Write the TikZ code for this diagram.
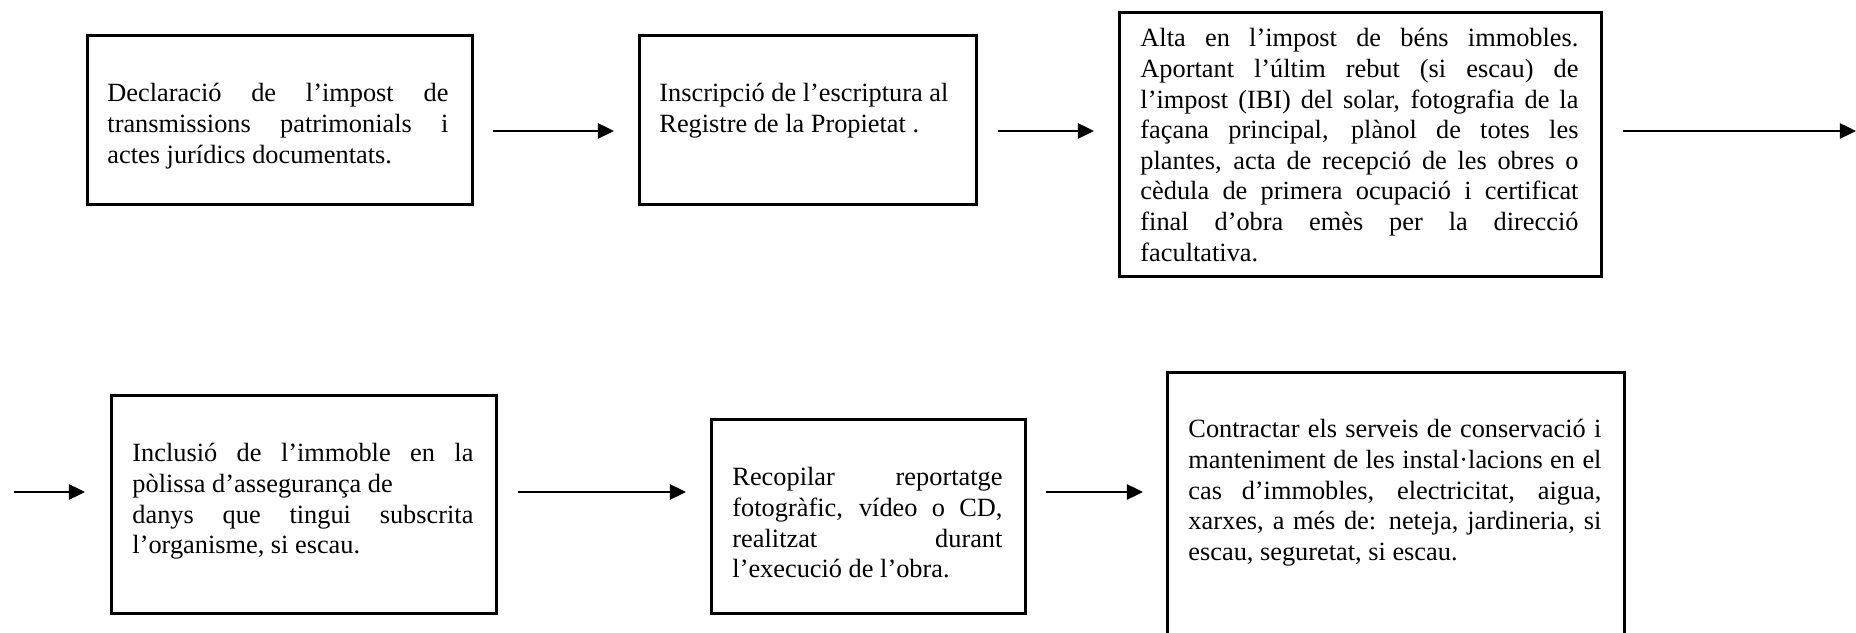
\documentclass[tikz,border=0pt]{standalone}
\usepackage{fontspec}
\setmainfont{Liberation Serif}
\usetikzlibrary{arrows.meta}
\newcommand{\pxu}{0.448pt}
\tolerance=10000
\hyphenpenalty=10000
\exhyphenpenalty=10000
\tikzset{
  box/.style={draw, line width=1.5pt, inner sep=0, anchor=north west},
  txt/.style={inner sep=0, anchor=base west, align=justify, font=\fontsize{11.8}{13.7}\selectfont},
  flow/.style={line width=0.9pt, -{Triangle[length=7.2pt,width=6.8pt]}}
}

\begin{document}
\begin{tikzpicture}[x=\pxu, y=-\pxu]
\useasboundingbox (0,0) rectangle (1856,633);
\clip (0,0) rectangle (1856,633);

% first row
\node[box, minimum width=385*\pxu, minimum height=169*\pxu] (b1) at (86,34) {};
\node[box, minimum width=337*\pxu, minimum height=169*\pxu] (b2) at (638,34) {};
\node[box, minimum width=482*\pxu, minimum height=264*\pxu] (b3) at (1118,11) {};

\node[txt, text width=341*\pxu] (t1) at (107,102) {Declaració de l'impost de\linebreak
  transmissions patrimonials i\linebreak actes jurídics documentats.};
\node[txt, text width=310*\pxu] (t2) at (659,102) {Inscripció de l'escriptura al\newline
  Registre de la Propietat .};
\node[txt, text width=438*\pxu] (t3) at (1140,47) {Alta en l'impost de béns immobles.\linebreak
  Aportant l'últim rebut (si escau) de\linebreak l'impost (IBI) del solar, fotografia de la\linebreak
  façana principal, plànol de totes les\linebreak plantes, acta de recepció de les obres o\linebreak
  cèdula de primera ocupació i certificat\linebreak final d'obra emès per la direcció\linebreak
  facultativa.};

% second row
\node[box, minimum width=385*\pxu, minimum height=218*\pxu] (b4) at (110,394) {};
\node[box, minimum width=314*\pxu, minimum height=194*\pxu] (b5) at (710,418) {};
\node[box, minimum width=457*\pxu, minimum height=300*\pxu] (b6) at (1166,371) {};

\node[txt, text width=341*\pxu] (t4) at (132,462) {Inclusió de l'immoble en la\linebreak
  pòlissa d'assegurança de\newline danys que tingui subscrita\linebreak l'organisme, si escau.};
\node[txt, text width=270*\pxu] (t5) at (732,486) {Recopilar reportatge\linebreak
  fotogràfic, vídeo o CD,\linebreak realitzat durant\linebreak l'execució de l'obra.};
\node[txt, text width=413*\pxu] (t6) at (1188,438) {Contractar els serveis de conservació i\linebreak
  manteniment de les instal·lacions en el\linebreak cas d'immobles, electricitat, aigua,\linebreak
  xarxes, a més de: neteja, jardineria, si\linebreak escau, seguretat, si escau.};

% arrows
\coordinate (a1) at (493,131);  \coordinate (a2) at (614,131);
\coordinate (a3) at (998,131);  \coordinate (a4) at (1094,131);
\coordinate (a5) at (1623,131); \coordinate (a6) at (1856,131);
\coordinate (a7) at (14,492);   \coordinate (a8) at (85,492);
\coordinate (a9) at (518,492);  \coordinate (a10) at (686,492);
\coordinate (a11) at (1046,492); \coordinate (a12) at (1143,492);
\foreach \s/\e in {a1/a2, a3/a4, a5/a6, a7/a8, a9/a10, a11/a12}
  \draw[flow] (\s) -- (\e);
\end{tikzpicture}
\end{document}
